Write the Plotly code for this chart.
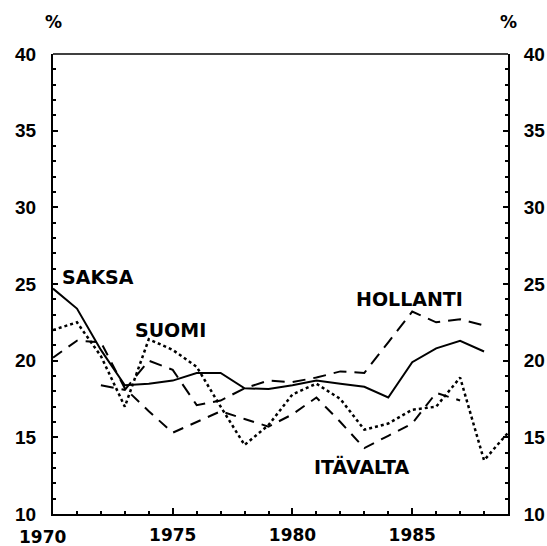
import plotly.graph_objects as go

years = list(range(1970, 1990))

saksa = [24.7, 23.4, 20.7, 18.4, 18.5, 18.7, 19.2, 19.2, 18.2, 18.15,
         18.4, 18.7, 18.5, 18.3, 17.6, 19.9, 20.8, 21.3, 20.6, None]
suomi = [22.0, 22.5, 20.3, 17.0, 21.4, 20.7, 19.6, 17.0, 14.5, 15.8,
         17.8, 18.5, 17.5, 15.5, 15.9, 16.8, 17.0, 18.9, 13.5, 15.3]
hollanti = [None, None, 18.4, 18.1, 20.0, 19.4, 17.1, 17.4, 18.2, 18.7,
            18.6, 18.9, 19.3, 19.2, 21.2, 23.2, 22.5, 22.7, 22.3, None]
itavalta = [20.2, 21.3, 21.2, 18.2, 16.7, 15.3, 16.0, 16.7, 16.2, 15.7,
            16.5, 17.6, 16.0, 14.3, 15.1, 15.9, 17.9, 17.4, None, None]

x_ticks = [1970, 1975, 1980, 1985]
y_ticks = [10, 15, 20, 25, 30, 35, 40]

labels = [("SAKSA", 1971.875, 25.45), ("SUOMI", 1974.9, 22.0),
          ("HOLLANTI", 1984.875, 24.0), ("ITÄVALTA", 1982.9, 13.1)]

FONT = "DejaVu Sans"
YFONT = "Liberation Sans"
fig = go.Figure()
fig.add_trace(go.Scatter(x=years, y=saksa, mode="lines", name="SAKSA",
                         line=dict(color="black", width=2)))
fig.add_trace(go.Scatter(x=years, y=suomi, mode="lines", name="SUOMI",
                         line=dict(color="black", width=2.5, dash="dot")))
fig.add_trace(go.Scatter(x=years, y=hollanti, mode="lines", name="HOLLANTI",
                         line=dict(color="black", width=2, dash="13px,8px")))
fig.add_trace(go.Scatter(x=years, y=itavalta, mode="lines", name="ITÄVALTA",
                         yaxis="y2",
                         line=dict(color="black", width=2, dash="11px,8px")))

for text, xv, yv in labels:
    fig.add_annotation(x=xv, y=yv, text=text, showarrow=False,
                       font=dict(family=FONT, size=19, color="black", weight="bold"))

fig.add_annotation(x=1970, y=0, yref="paper", text="1970", showarrow=False,
                   xanchor="center", yanchor="top", yshift=-11, xshift=-11,
                   font=dict(family=FONT, size=17, color="black", weight="bold"))
for px in [0, 1]:
    fig.add_annotation(x=px, xref="paper", y=1, yref="paper", text="%",
                       showarrow=False, xanchor="center", yanchor="middle", yshift=32,
                       font=dict(family=FONT, size=17, color="black", weight="bold"))

xtickfont = dict(family=FONT, size=17, color="black", weight="bold")
ytickfont = dict(family=YFONT, size=19, color="black", weight="bold")
fig.update_layout(
    template="none",
    width=547, height=546,
    margin=dict(l=53, r=39, t=54, b=32, autoexpand=False),
    paper_bgcolor="white", plot_bgcolor="white",
    showlegend=False,
    xaxis=dict(range=[1970, 1989], tickvals=x_ticks[1:], ticktext=[str(v) for v in x_ticks[1:]],
               ticks="inside", ticklen=6, tickwidth=2, tickcolor="black", automargin=False,
               minor=dict(dtick=1, ticks="inside", ticklen=3, tickwidth=2, tickcolor="black"),
               showline=True, linecolor="black", linewidth=2, mirror=False,
               showgrid=False, zeroline=False, tickfont=xtickfont, ticklabelstandoff=5),
    yaxis=dict(range=[10, 40], tickvals=y_ticks, ticks="inside", ticklen=5, tickwidth=2,
               tickcolor="black", automargin=False,
               minor=dict(dtick=1, ticks="inside", ticklen=3, tickwidth=2, tickcolor="black"),
               showline=True, linecolor="black", linewidth=2, mirror=False,
               showgrid=False, zeroline=False, tickfont=ytickfont, ticklabelstandoff=11),
    yaxis2=dict(range=[10, 40], matches="y", overlaying="y", side="right",
                tickvals=y_ticks, ticks="inside", ticklen=5, tickwidth=2, tickcolor="black",
                automargin=False,
                minor=dict(dtick=1, ticks="inside", ticklen=3, tickwidth=2, tickcolor="black"),
                showline=True, linecolor="black", linewidth=2,
                showgrid=False, zeroline=False, tickfont=ytickfont, ticklabelstandoff=10),
    shapes=[dict(type="line", xref="paper", yref="paper", x0=0, x1=1, y0=1, y1=1,
                 line=dict(color="black", width=1.5))],
)

fig.write_html("out.html", config={"displayModeBar": False},
               post_script="document.body.style.margin='0px';document.body.style.overflow='hidden';")
